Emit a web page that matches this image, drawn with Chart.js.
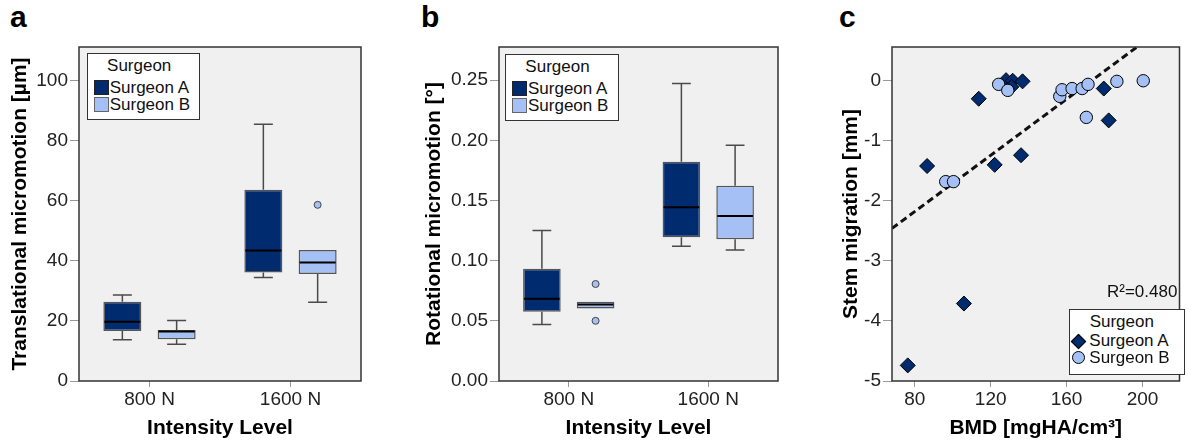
<!DOCTYPE html>
<html>
<head>
<meta charset="utf-8">
<script src="https://cdn.jsdelivr.net/npm/chart.js@4.4.1/dist/chart.umd.min.js"></script>
<style>
    body { margin: 0; background: #fff; font-family: "Liberation Sans", Arial, sans-serif; }
    #pagina { position: relative; width: 1188px; height: 445px; overflow: hidden; }
    .painel { position: absolute; top: 0; }
    .letra { position: absolute; top: 2px; font-weight: bold; font-size: 30px; line-height: 1; color: #000; }
    .legenda { position: absolute; background: #fff; border: 1.5px solid #333; box-sizing: border-box; font-size: 17px; color: #111; }
    .legenda div { position: absolute; white-space: nowrap; line-height: 17px; }
    .r2 { position: absolute; font-size: 17px; color: #111; line-height: 17px; }
</style>
</head>
<body>
<div id="pagina">
    <div class="letra" style="left:10px">a</div>
    <div class="letra" style="left:421px">b</div>
    <div class="letra" style="left:839px">c</div>

    <canvas class="painel" id="canvasTrans" width="372" height="445" style="left:0px"></canvas>
    <canvas class="painel" id="canvasRot" width="390" height="445" style="left:400px"></canvas>
    <canvas class="painel" id="canvasBMD" width="388" height="445" style="left:800px"></canvas>

    <div class="legenda" id="legendaTrans"></div>
    <div class="legenda" id="legendaRot"></div>
    <div class="legenda" id="legendaBMD"></div>
    <div class="r2" id="textoR2" style="left:1107px; top:283px">R²=0.480</div>
</div>

<script>
// categorias e grupos
var categorias = ["800 N", "1600 N"];
var cirurgioes = ["Surgeon A", "Surgeon B"];
var corA = "#002b6e";
var corB = "#a4c0f4";

// painel a - micromovimento translacional [µm]
var transBaixoA   = [13.7, 34.4];
var transQ1A      = [16.6, 36.1];
var transMedianaA = [19.7, 43.4];
var transQ3A      = [26.4, 63.6];
var transAltoA    = [28.6, 85.4];
var transOutA     = [[], []];

var transBaixoB   = [12.2, 26.2];
var transQ1B      = [13.9, 35.6];
var transMedianaB = [16.5, 39.4];
var transQ3B      = [17.0, 43.6];
var transAltoB    = [20.1, 43.6];
var transOutB     = [[], [58.6]];

var transTicks = [0, 20, 40, 60, 80, 100];

// painel b - micromovimento rotacional [°]
var rotBaixoA   = [0.047, 0.112];
var rotQ1A      = [0.0575, 0.1194];
var rotMedianaA = [0.0683, 0.1444];
var rotQ3A      = [0.0933, 0.1822];
var rotAltoA    = [0.125, 0.2472];
var rotOutA     = [[], []];

var rotBaixoB   = [0.0603, 0.1089];
var rotQ1B      = [0.0603, 0.1178];
var rotMedianaB = [0.0636, 0.137];
var rotQ3B      = [0.0658, 0.1622];
var rotAltoB    = [0.0658, 0.1958];
var rotOutB     = [[0.0806, 0.050], []];

var rotTicks = [0, 0.05, 0.10, 0.15, 0.20, 0.25];

// painel c - BMD x migração da haste
var bmdA  = [76.3, 86.5, 105.9, 113.7, 122.1, 128.1, 131.6, 131.0, 136.8, 136.0, 179.6, 182.2];
var migrA = [-4.74, -1.42, -3.71, -0.30, -1.40, 0.01, 0.0, -0.10, -0.01, -1.24, -0.13, -0.66];
var bmdB  = [96.3, 100.4, 124.2, 129.0, 156.4, 157.6, 162.9, 168.2, 171.3, 170.4, 186.5, 200.4];
var migrB = [-1.68, -1.68, -0.06, -0.16, -0.26, -0.15, -0.13, -0.13, -0.06, -0.61, -0.01, 0.0];

var ajusteInclinacao = 0.0234;
var ajusteIntercepto = -4.05;

var bmdTicks = [80, 120, 160, 200];
var migrTicks = [-5, -4, -3, -2, -1, 0];

var fonteBase = "'Liberation Sans', Arial, sans-serif";

var pluginMoldura = {
    id: "moldura",
    beforeDraw: function (chart) {
        var a = chart.chartArea;
        var ctx = chart.ctx;
        ctx.save();
        ctx.fillStyle = "#f0f0f0";
        ctx.fillRect(a.left, a.top, a.right - a.left, a.bottom - a.top);
        ctx.restore();
    },
    afterDraw: function (chart) {
        var a = chart.chartArea;
        var ctx = chart.ctx;
        ctx.save();
        ctx.strokeStyle = "#333";
        ctx.lineWidth = 1.5;
        ctx.strokeRect(a.left, a.top, a.right - a.left, a.bottom - a.top);
        ctx.restore();
    }
};

// bigodes, medianas e outliers desenhados sobre as barras flutuantes
var pluginBoxplot = {
    id: "boxplot",
    afterDatasetsDraw: function (chart) {
        var ctx = chart.ctx;
        var y = chart.scales.y;
        chart.data.datasets.forEach(function (ds, d) {
            var meta = chart.getDatasetMeta(d);
            meta.data.forEach(function (barra, i) {
                var x = barra.x;
                var meio = barra.width / 2;
                var capa = barra.width / 4;
                var yQ1 = y.getPixelForValue(ds.data[i][0]);
                var yQ3 = y.getPixelForValue(ds.data[i][1]);
                var yBaixo = y.getPixelForValue(ds.baixo[i]);
                var yAlto = y.getPixelForValue(ds.alto[i]);
                var yMed = y.getPixelForValue(ds.mediana[i]);

                ctx.save();
                ctx.strokeStyle = "#4a4a4a";
                ctx.lineWidth = 1.5;
                ctx.beginPath();
                if (yAlto < yQ3 - 0.5) {
                    ctx.moveTo(x, yQ3); ctx.lineTo(x, yAlto);
                    ctx.moveTo(x - capa, yAlto); ctx.lineTo(x + capa, yAlto);
                }
                if (yBaixo > yQ1 + 0.5) {
                    ctx.moveTo(x, yQ1); ctx.lineTo(x, yBaixo);
                    ctx.moveTo(x - capa, yBaixo); ctx.lineTo(x + capa, yBaixo);
                }
                ctx.stroke();

                ctx.strokeStyle = "#000";
                ctx.lineWidth = 2;
                ctx.beginPath();
                ctx.moveTo(x - meio + 1, yMed);
                ctx.lineTo(x + meio - 1, yMed);
                ctx.stroke();

                ds.outliers[i].forEach(function (v) {
                    ctx.beginPath();
                    ctx.arc(x, y.getPixelForValue(v), 3.5, 0, Math.PI * 2);
                    ctx.fillStyle = ds.backgroundColor;
                    ctx.fill();
                    ctx.strokeStyle = "#444";
                    ctx.lineWidth = 1;
                    ctx.stroke();
                });
                ctx.restore();
            });
        });
    }
};

function caixa(rotulo, cor, q1, q3, baixo, mediana, alto, outliers) {
    var dados = [];
    for (var i = 0; i < categorias.length; i++) {
        dados.push([q1[i], q3[i]]);
    }
    return {
        label: rotulo,
        data: dados,
        backgroundColor: cor,
        borderColor: "#555",
        borderWidth: 1.5,
        borderSkipped: false,
        categoryPercentage: 0.77,
        barPercentage: 0.70,
        baixo: baixo,
        mediana: mediana,
        alto: alto,
        outliers: outliers
    };
}

function escalaY(larguraEixo, min, max, ticks, titulo, padTitulo, formatar) {
    return {
        min: min,
        max: max,
        afterBuildTicks: function (s) {
            s.ticks = ticks.map(function (v) { return { value: v }; });
        },
        afterFit: function (s) { s.width = larguraEixo; },
        border: { display: false },
        grid: { drawOnChartArea: false, drawTicks: true, tickLength: 9, color: "#999" },
        ticks: {
            color: "#222",
            padding: 2,
            font: { family: fonteBase, size: 19 },
            callback: formatar
        },
        title: {
            display: true,
            text: titulo,
            color: "#000",
            padding: { top: padTitulo, bottom: 0 },
            font: { family: fonteBase, size: 21, weight: "bold" }
        }
    };
}

function escalaX(titulo, extra) {
    var escala = {
        afterFit: function (s) { s.height = 64; },
        border: { display: false },
        grid: { drawOnChartArea: false, drawTicks: true, tickLength: 6, color: "#999", offset: false },
        ticks: {
            color: "#222",
            padding: 1,
            maxRotation: 0,
            font: { family: fonteBase, size: 19 }
        },
        title: {
            display: true,
            text: titulo,
            color: "#000",
            padding: { top: 0, bottom: 4 },
            font: { family: fonteBase, size: 21, weight: "bold" }
        }
    };
    for (var k in extra) { escala[k] = extra[k]; }
    return escala;
}

function opcoesBase(padDireita, escalas) {
    return {
        responsive: false,
        animation: false,
        layout: { padding: { left: 0, right: padDireita, top: 47, bottom: 0 } },
        plugins: { legend: { display: false }, tooltip: { enabled: false } },
        scales: escalas
    };
}

function montarLegenda(id, esquerda, topo, largura, altura, tipo) {
    var el = document.getElementById(id);
    el.style.left = esquerda + "px";
    el.style.top = topo + "px";
    el.style.width = largura + "px";
    el.style.height = altura + "px";
    var cores = [corA, corB];
    var html = "";
    if (tipo === "caixa") {
        html += '<div style="left:0; width:103px; text-align:center; top:2.5px">Surgeon</div>';
        for (var i = 0; i < cirurgioes.length; i++) {
            var t = 25 + i * 16.8;
            html += '<div style="left:6px; top:' + (t + 1) + 'px; width:13px; height:13px; background:' + cores[i] +
                    '; border:1px solid ' + (i === 0 ? '#222' : '#666') + '"></div>';
            html += '<div style="left:22px; top:' + t + 'px">' + cirurgioes[i] + '</div>';
        }
    } else {
        html += '<div style="left:0; width:103px; text-align:center; top:3px">Surgeon</div>';
        for (var j = 0; j < cirurgioes.length; j++) {
            var tt = 21.5 + j * 17.6;
            if (j === 0) {
                html += '<div style="left:3px; top:' + (tt + 4) + 'px; width:9px; height:9px; background:' + cores[j] +
                        '; border:1px solid #000; transform:rotate(45deg)"></div>';
            } else {
                html += '<div style="left:1.5px; top:' + (tt + 2) + 'px; width:11px; height:11px; border-radius:50%; background:' + cores[j] +
                        '; border:1px solid #000"></div>';
            }
            html += '<div style="left:19px; top:' + tt + 'px">' + cirurgioes[j] + '</div>';
        }
    }
    el.innerHTML = html;
}

function plotarTranslacional() {
    new Chart(document.getElementById("canvasTrans"), {
        type: "bar",
        data: {
            labels: categorias,
            datasets: [
                caixa(cirurgioes[0], corA, transQ1A, transQ3A, transBaixoA, transMedianaA, transAltoA, transOutA),
                caixa(cirurgioes[1], corB, transQ1B, transQ3B, transBaixoB, transMedianaB, transAltoB, transOutB)
            ]
        },
        options: opcoesBase(11, {
            x: escalaX("Intensity Level", {}),
            y: escalaY(79, 0, 111.1, transTicks, "Translational micromotion [µm]", 7.4)
        }),
        plugins: [pluginMoldura, pluginBoxplot]
    });
    montarLegenda("legendaTrans", 86.7, 53.3, 113.5, 66.7, "caixa");
}

function plotarRotacional() {
    new Chart(document.getElementById("canvasRot"), {
        type: "bar",
        data: {
            labels: categorias,
            datasets: [
                caixa(cirurgioes[0], corA, rotQ1A, rotQ3A, rotBaixoA, rotMedianaA, rotAltoA, rotOutA),
                caixa(cirurgioes[1], corB, rotQ1B, rotQ3B, rotBaixoB, rotMedianaB, rotAltoB, rotOutB)
            ]
        },
        options: opcoesBase(12, {
            x: escalaX("Intensity Level", {}),
            y: escalaY(99, 0, 0.2775, rotTicks, "Rotational micromotion [°]", 21.4,
                function (v) { return Number(v).toFixed(2); })
        }),
        plugins: [pluginMoldura, pluginBoxplot]
    });
    montarLegenda("legendaRot", 505, 54.3, 114, 66.7, "caixa");
}

function plotarBMD() {
    var xMin = 68.0, xMax = 219.5;
    var pontosA = [], pontosB = [];
    for (var i = 0; i < bmdA.length; i++) pontosA.push({ x: bmdA[i], y: migrA[i] });
    for (var j = 0; j < bmdB.length; j++) pontosB.push({ x: bmdB[j], y: migrB[j] });
    var reta = [
        { x: xMin, y: ajusteIntercepto + ajusteInclinacao * xMin },
        { x: xMax, y: ajusteIntercepto + ajusteInclinacao * xMax }
    ];

    new Chart(document.getElementById("canvasBMD"), {
        type: "scatter",
        data: {
            datasets: [
                {
                    type: "line",
                    label: "Fit",
                    data: reta,
                    borderColor: "#111",
                    borderWidth: 3,
                    borderDash: [7, 4],
                    pointRadius: 0,
                    fill: false,
                    order: 2
                },
                {
                    label: cirurgioes[0],
                    data: pontosA,
                    pointStyle: "rectRot",
                    pointRadius: 7.5,
                    backgroundColor: corA,
                    borderColor: "#000",
                    borderWidth: 1,
                    order: 1
                },
                {
                    label: cirurgioes[1],
                    data: pontosB,
                    pointStyle: "circle",
                    pointRadius: 6.2,
                    backgroundColor: corB,
                    borderColor: "#000",
                    borderWidth: 1,
                    order: 0
                }
            ]
        },
        options: opcoesBase(1, {
            x: escalaX("BMD [mgHA/cm³]", {
                type: "linear",
                min: xMin,
                max: xMax,
                afterBuildTicks: function (s) {
                    s.ticks = bmdTicks.map(function (v) { return { value: v }; });
                }
            }),
            y: escalaY(92, -5, 0.562, migrTicks, "Stem migration [mm]", 38.4)
        }),
        plugins: [pluginMoldura]
    });
    montarLegenda("legendaBMD", 1069.3, 309, 115.5, 65.5, "dispersao");
}

plotarTranslacional();
plotarRotacional();
plotarBMD();
</script>
</body>
</html>
